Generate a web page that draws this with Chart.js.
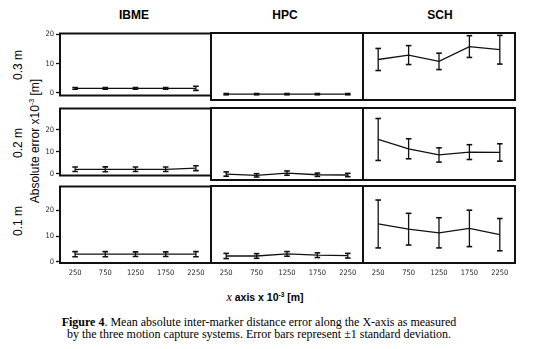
<!DOCTYPE html>
<html>
<head>
<meta charset="utf-8">
<script src="https://cdn.jsdelivr.net/npm/chart.js@4"></script>
<style>
  html, body { margin:0; padding:0; background:#fff; }
  body { width:534px; height:349px; position:relative; overflow:hidden; font-family:"Liberation Sans", Arial, sans-serif; color:#000; }
  .abs { position:absolute; white-space:nowrap; }
  canvas { position:absolute; }
  .coltitle { font-weight:bold; font-size:12px; transform:translate(-50%,-50%); }
  .rowlab { font-size:12px; transform:translate(-50%,-50%) rotate(-90deg); }
  .cap { font-family:"Liberation Serif","Times New Roman",serif; font-size:12px; line-height:12px; left:0; width:518px; text-align:center; }
</style>
</head>
<body>
<div class="abs coltitle" style="left:134px;top:15px;">IBME</div>
<div class="abs coltitle" style="left:285px;top:15px;">HPC</div>
<div class="abs coltitle" style="left:440px;top:15px;">SCH</div>
<div class="abs rowlab" style="left:18px;top:65px;">0.3 m</div>
<div class="abs rowlab" style="left:18px;top:143px;">0.2 m</div>
<div class="abs rowlab" style="left:18px;top:221px;">0.1 m</div>
<div class="abs rowlab" style="left:35px;top:141px;">Absolute error x10<sup style="font-size:7px;vertical-align:5px;">-3</sup> [m]</div>
<div class="abs" style="left:265px;top:297px;transform:translate(-50%,-50%);font-size:10.5px;font-weight:bold;"><span style="font-family:'Liberation Serif',serif;font-style:italic;font-weight:normal;font-size:12px;">x</span> axis x 10<sup style="font-size:6.5px;vertical-align:4px;">-3</sup> [m]</div>
<div class="abs cap" style="top:316px;"><b>Figure 4</b>. Mean absolute inter-marker distance error along the X-axis as measured<br>by the three motion capture systems. Error bars represent ±1 standard deviation.</div>

<script>
// ---- data ----
const xPositions = [250, 750, 1250, 1750, 2250];
const xTickLabels = ['250', '750', '1250', '1750', '2250'];
const yTickValues = [0, 10, 20];
const systems = ['IBME', 'HPC', 'SCH'];
const distances = ['0.3 m', '0.2 m', '0.1 m'];

// mean absolute error (x10^-3 m) and standard deviation, per distance (row) and system (column)
const ibme_03_mean = [1.5, 1.5, 1.5, 1.5, 1.5];
const ibme_03_sd   = [0.3, 0.3, 0.3, 0.3, 0.7];
const hpc_03_mean  = [0.9, 0.9, 0.9, 0.9, 0.9];
const hpc_03_sd    = [0.2, 0.2, 0.2, 0.2, 0.2];
const sch_03_mean  = [11.9, 13.3, 11.3, 16.0, 15.0];
const sch_03_sd    = [3.5, 3.0, 2.6, 3.45, 4.55];

const ibme_02_mean = [2.1, 2.1, 2.1, 2.1, 2.6];
const ibme_02_sd   = [1.0, 1.1, 1.0, 1.0, 1.1];
const hpc_02_mean  = [1.8, 1.25, 2.2, 1.5, 1.4];
const hpc_02_sd    = [0.9, 0.7, 0.9, 0.7, 0.7];
const sch_02_mean  = [16.3, 12.4, 9.8, 11.0, 10.85];
const sch_02_sd    = [8.8, 4.2, 3.0, 3.1, 3.65];

const ibme_01_mean = [3.0, 3.0, 3.0, 3.0, 3.0];
const ibme_01_sd   = [1.0, 1.0, 0.9, 0.9, 1.0];
const hpc_01_mean  = [2.3, 2.3, 3.1, 2.6, 2.4];
const hpc_01_sd    = [1.0, 0.9, 0.9, 0.9, 0.9];
const sch_01_mean  = [14.6, 12.6, 11.2, 12.9, 10.5];
const sch_01_sd    = [9.2, 6.1, 5.8, 7.0, 6.2];

const yRanges = [[-0.95, 20.3], [-0.7, 29.5], [-0.4, 29.2]];
const xRange = [0, 2500];

const panelMeans = [
  [ibme_03_mean, hpc_03_mean, sch_03_mean],
  [ibme_02_mean, hpc_02_mean, sch_02_mean],
  [ibme_01_mean, hpc_01_mean, sch_01_mean]
];
const panelSds = [
  [ibme_03_sd, hpc_03_sd, sch_03_sd],
  [ibme_02_sd, hpc_02_sd, sch_02_sd],
  [ibme_01_sd, hpc_01_sd, sch_01_sd]
];

// ---- layout (pixel geometry of panels) ----
const colEdges = [[60, 211], [211, 363], [363, 515]];
const rowEdges = [[33, 100], [108, 180], [186, 263]];
const YAXIS_W = 40, XAXIS_H = 20, PAD = 2, PAD_T = 6;

const framePlugin = {
  id: 'frame',
  afterDraw(chart) {
    const a = chart.chartArea, ctx = chart.ctx;
    ctx.save();
    ctx.strokeStyle = '#111';
    ctx.lineWidth = 2;
    ctx.strokeRect(a.left, a.top, a.right - a.left, a.bottom - a.top);
    ctx.restore();
  }
};

const tickFont = { family: "'DejaVu Sans Condensed', 'DejaVu Sans', sans-serif", size: 7.5 };

for (let r = 0; r < 3; r++) {
  for (let c = 0; c < 3; c++) {
    const showY = c === 0, showX = r === 2;
    const padL = showY ? YAXIS_W : PAD;
    const padB = showX ? XAXIS_H : PAD;
    const [l, rr] = colEdges[c], [t, b] = rowEdges[r];
    const w = (rr - l) + padL + PAD, h = (b - t) + PAD_T + padB;
    const wrap = document.createElement('div');
    wrap.style.position = 'absolute';
    wrap.style.left = (l - padL) + 'px';
    wrap.style.top = (t - PAD_T) + 'px';
    wrap.style.width = w + 'px';
    wrap.style.height = h + 'px';
    const cv = document.createElement('canvas');
    cv.width = w; cv.height = h;
    wrap.appendChild(cv);
    document.body.appendChild(wrap);

    const means = panelMeans[r][c], sds = panelSds[r][c];
    const lineData = xPositions.map((x, i) => ({ x, y: means[i] }));
    const errData = [];
    xPositions.forEach((x, i) => {
      errData.push({ x, y: means[i] - sds[i] });
      errData.push({ x, y: means[i] + sds[i] });
      errData.push({ x, y: null });
    });

    new Chart(cv, {
      type: 'scatter',
      data: {
        datasets: [
          { data: lineData, showLine: true, borderColor: '#111', borderWidth: 1.3, pointRadius: 0, tension: 0 },
          { data: errData, showLine: true, spanGaps: false, borderColor: '#111', borderWidth: 1.3,
            pointStyle: 'line', pointRadius: 2.8, pointBorderWidth: 1.6, pointBorderColor: '#111', pointHoverRadius: 0 }
        ]
      },
      options: {
        responsive: false, animation: false, events: [],
        layout: { autoPadding: false, padding: { left: showY ? 0 : PAD, right: PAD, top: PAD_T, bottom: showX ? 0 : PAD } },
        plugins: { legend: { display: false }, tooltip: { enabled: false } },
        scales: {
          x: {
            type: 'linear', min: xRange[0], max: xRange[1], display: showX,
            afterBuildTicks: s => { s.ticks = xPositions.map(v => ({ value: v })); },
            afterFit: s => { if (showX) s.height = XAXIS_H; },
            grid: { display: true, drawOnChartArea: false, drawTicks: false },
            border: { display: false },
            ticks: { font: tickFont, color: '#222', padding: 6, maxRotation: 0, autoSkip: false,
              callback: (v) => xTickLabels[xPositions.indexOf(v)] }
          },
          y: {
            type: 'linear', min: yRanges[r][0], max: yRanges[r][1], display: showY,
            afterBuildTicks: s => { s.ticks = yTickValues.map(v => ({ value: v })); },
            afterFit: s => { if (showY) s.width = YAXIS_W; },
            grid: { display: true, drawOnChartArea: false, drawTicks: true, tickLength: 4, color: '#111', tickWidth: 1.3 },
            border: { display: false },
            ticks: { font: tickFont, color: '#222', padding: 2, callback: v => String(v) }
          }
        }
      },
      plugins: [framePlugin]
    });
  }
}
</script>
</body>
</html>
